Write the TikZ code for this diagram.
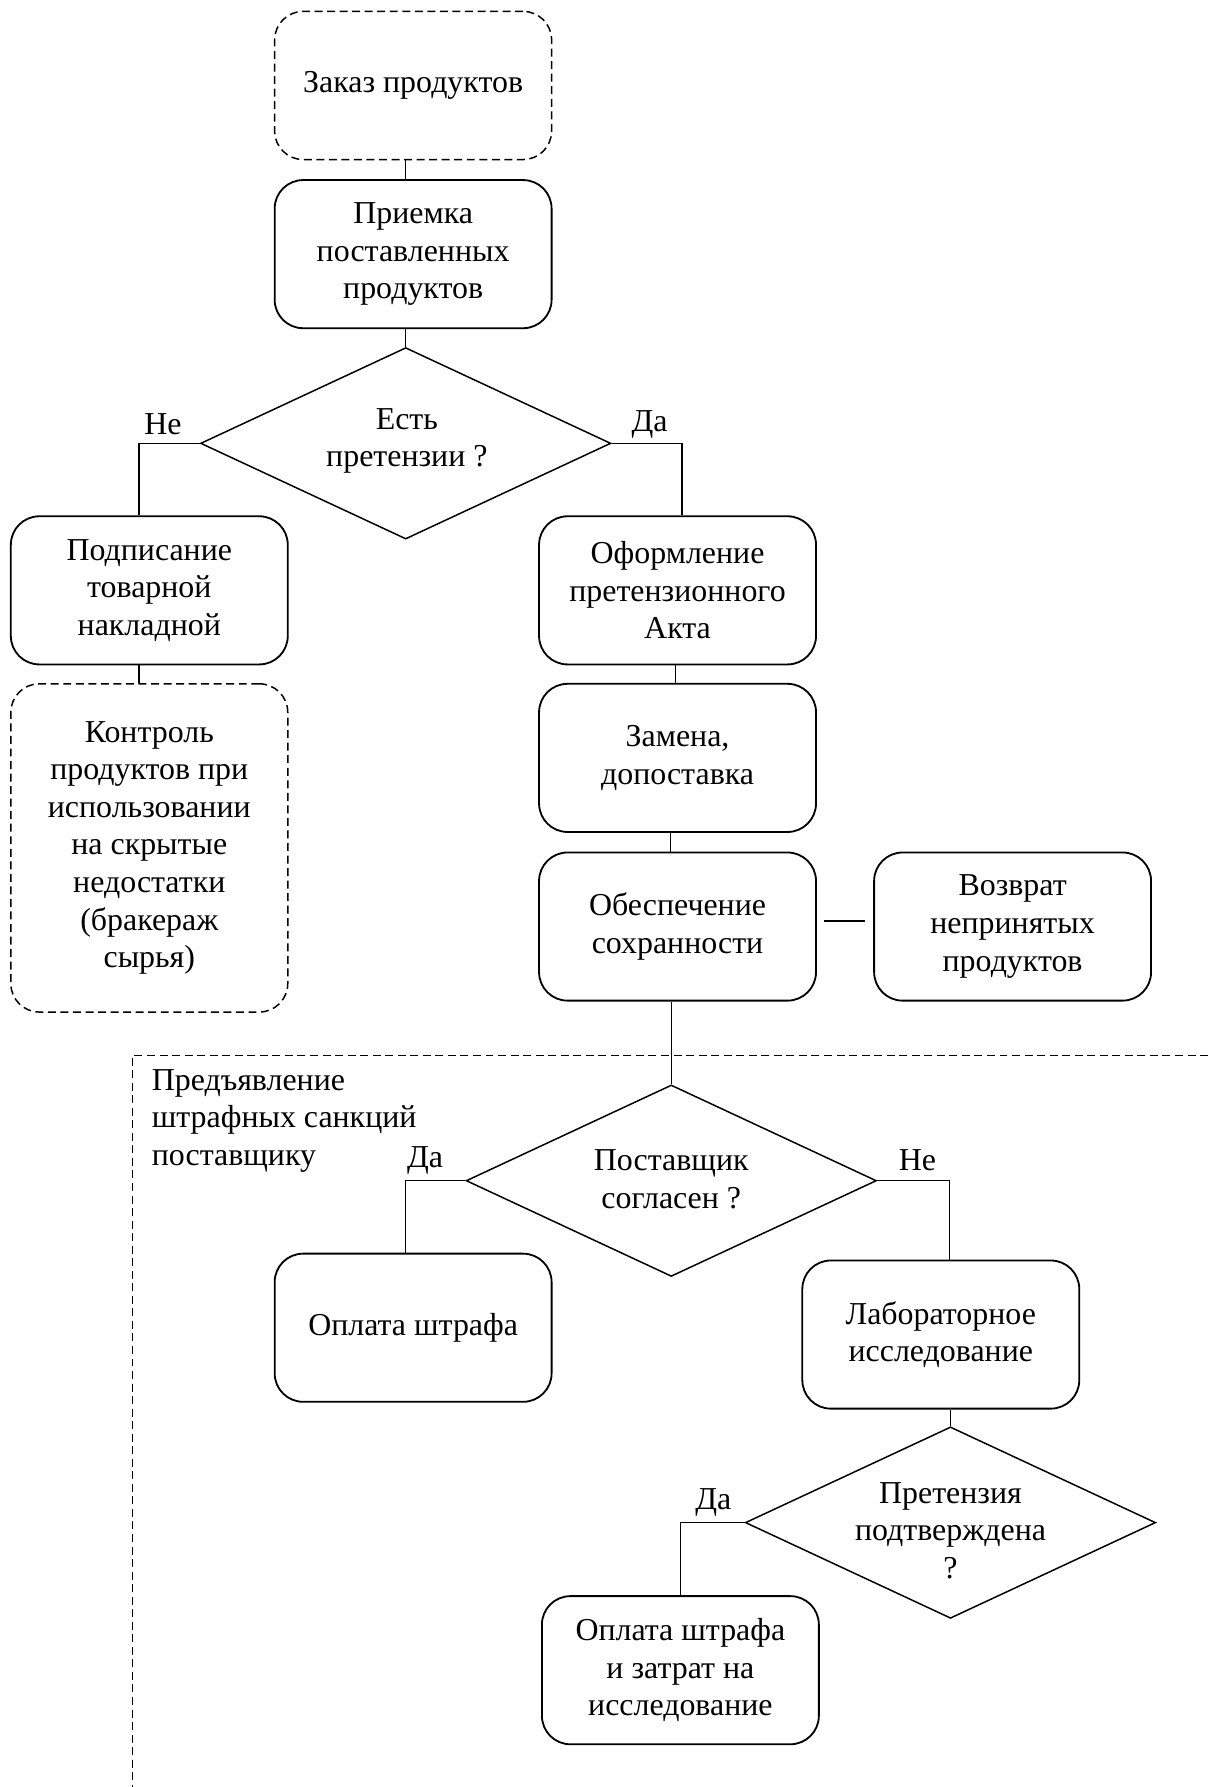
\documentclass[tikz,border=0pt]{standalone}
\usepackage{fontspec}
\setmainfont{Liberation Serif}
\usetikzlibrary{shapes.geometric}
\begin{document}
\begin{tikzpicture}[x=1pt,y=-1pt,
  every node/.style={font=\fontsize{28}{33}\selectfont},
  box/.style={draw, line width=1.6pt, rounded corners=25pt, minimum width=243pt, minimum height=130pt, align=center, inner sep=0pt},
  dbox/.style={box, dash pattern=on 7pt off 4pt, line width=1.3pt},
  dia/.style={draw, diamond, line width=1.3pt, minimum width=360pt, minimum height=168pt, inner sep=0pt},
  lbl/.style={align=center, inner sep=0pt},
  conn/.style={line width=1pt},
  branch/.style={line width=1.2pt}]
\useasboundingbox (0,0) rectangle (1060,1568);
% nodes
\node[dbox] (zakaz) at (362.5,75) {Заказ продуктов};
\node[box] (priem) at (362.5,223) {Приемка\\поставленных\\продуктов};
\node[dia] (d1) at (356,389) {};
\node[lbl] (d1t) at (357,387) {Есть\\претензии ?};
\node[lbl] (ne1) at (143,372) {Не};
\node[lbl] (da1) at (570,372) {Да};
\node[box] (podp) at (131,518) {Подписание\\товарной\\накладной};
\node[dbox, minimum height=288pt] (kontr) at (131,744) {Контроль\\продуктов при\\использовании\\на скрытые\\недостатки\\(бракераж\\сырья)};
\node[box] (oform) at (594.5,518) {Оформление\\претензионного\\Акта};
\node[box] (zamena) at (594.5,665) {Замена,\\допоставка};
\node[box] (obesp) at (594.5,813) {Обеспечение\\сохранности};
\node[box] (vozvr) at (888.5,813) {Возврат\\непринятых\\продуктов};
% frame
\draw[dash pattern=on 7pt off 4pt, line width=1pt] (1060,926) -- (116,926) -- (116,1568);
\node[lbl, align=left, anchor=north west] (pred) at (133,938) {Предъявление\\штрафных санкций\\поставщику};
\node[dia] (d2) at (589,1036) {};
\node[lbl] (d2t) at (589,1035) {Поставщик\\согласен ?};
\node[lbl] (da2) at (373,1018) {Да};
\node[lbl] (ne2) at (805,1018) {Не};
\node[box] (oplata) at (362.5,1165) {Оплата штрафа};
\node[box] (lab) at (825.5,1171) {Лабораторное\\исследование};
\node[dia] (d3) at (834,1336) {};
\node[lbl] (d3t) at (834,1343) {Претензия\\подтверждена\\?};
\node[lbl] (da3) at (626,1318) {Да};
\node[box] (opl2) at (597,1465.5) {Оплата штрафа\\и затрат на\\исследование};
% connectors
\draw[conn] (zakaz.south -| d1.north) -- (priem.north -| d1.north);
\draw[conn] (d1.north) -- (d1.north |- priem.south);
\draw[branch] (d1.west) -| ([xshift=-9pt]podp.north);
\draw[branch] (d1.east) -| ([xshift=4pt]oform.north);
\draw[conn] ([xshift=-9pt]podp.south) -- ([xshift=-9pt]kontr.north);
\draw[conn] ([xshift=-2pt]oform.south) -- ([xshift=-2pt]zamena.north);
\draw[conn] ([xshift=-6pt]zamena.south) -- ([xshift=-6pt]obesp.north);
\draw[line width=2pt, shorten <=6pt, shorten >=7pt] ([yshift=5pt]obesp.east) -- ([yshift=5pt]vozvr.west);
\draw[conn] (d2.north) -- (d2.north |- obesp.south);
\draw[branch] (d2.west) -| ([xshift=-6.5pt]oplata.north);
\draw[branch] (d2.east) -| ([xshift=7.5pt]lab.north);
\draw[conn] (d3.north) -- (d3.north |- lab.south);
\draw[branch] (d3.west) -| (opl2.north);
\end{tikzpicture}
\end{document}
